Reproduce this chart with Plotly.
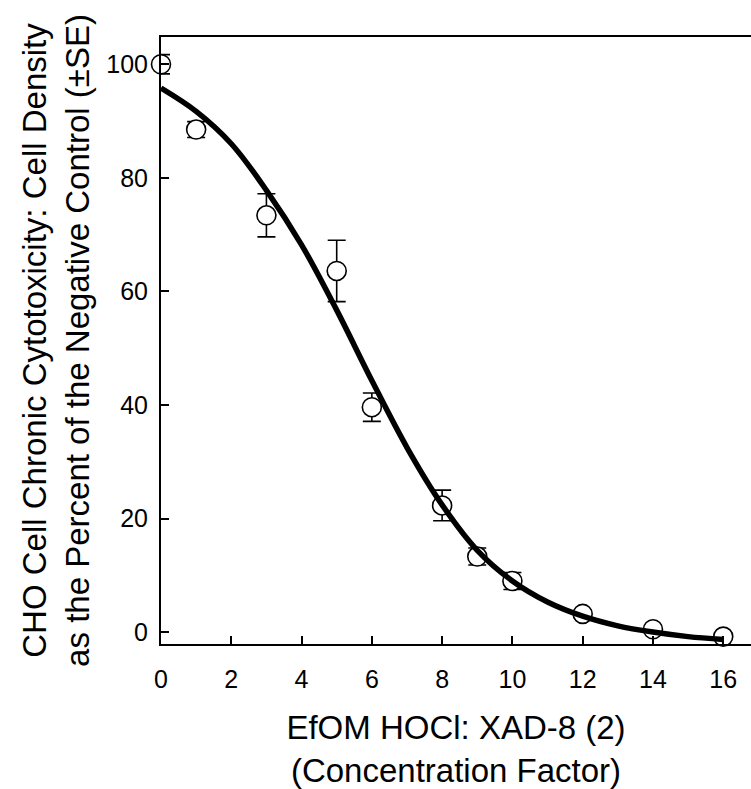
import plotly.graph_objects as go

# Observed data (concentration factor, % of negative control, SE)
conc = [0, 1, 3, 5, 6, 8, 9, 10, 12, 14, 16]
density = [100.0, 88.5, 73.4, 63.6, 39.6, 22.3, 13.3, 9.0, 3.2, 0.5, -0.8]
se = [1.7, 1.4, 3.8, 5.4, 2.5, 2.7, 1.5, 1.5, 0.6, 0.5, 0.3]

# Fitted curve
fit_x = [0, 1, 2, 3, 4, 5, 6, 7, 8, 9, 10, 11, 12, 13, 14, 15, 16]
fit_y = [95.8, 91.7, 86.0, 77.8, 68.2, 56.7, 44.3, 32.5, 22.4, 14.4, 9.0,
         5.3, 2.8, 1.1, 0.0, -0.8, -1.3]

x_ticks = [0, 2, 4, 6, 8, 10, 12, 14, 16]
y_ticks = [0, 20, 40, 60, 80, 100]

FONT = "Liberation Sans, Arial, sans-serif"

fig = go.Figure()
fig.add_trace(go.Scatter(
    x=conc, y=density, mode="markers",
    marker=dict(symbol="circle", size=19, color="white",
                line=dict(color="black", width=1.6)),
    error_y=dict(type="data", array=se, visible=True, color="black",
                 thickness=1.6, width=9),
    cliponaxis=False, showlegend=False,
))
fig.add_trace(go.Scatter(
    x=fit_x, y=fit_y, mode="lines",
    line=dict(color="black", width=5.5, shape="spline", smoothing=1.0),
    cliponaxis=False, showlegend=False,
))

fig.update_layout(
    width=751, height=789,
    margin=dict(l=161, r=0, t=37, b=143),
    paper_bgcolor="white", plot_bgcolor="white",
    font=dict(family=FONT, color="black"),
    xaxis=dict(
        range=[0, 16.79], tickmode="array", tickvals=x_ticks,
        ticks="inside", ticklen=8, tickwidth=1.5, tickcolor="black",
        showline=True, linecolor="black", linewidth=2, mirror=True,
        showgrid=False, zeroline=False,
        tickfont=dict(size=25, family=FONT), ticklabelstandoff=12,
        title=dict(text="EfOM HOCl: XAD-8 (2)<br>(Concentration Factor)",
                   font=dict(size=33, family=FONT), standoff=30),
    ),
    yaxis=dict(
        range=[-2.1, 104.8], tickmode="array", tickvals=y_ticks,
        ticks="inside", ticklen=8, tickwidth=1.5, tickcolor="black",
        showline=True, linecolor="black", linewidth=2, mirror=False,
        showgrid=False, zeroline=False,
        tickfont=dict(size=25, family=FONT), ticklabelstandoff=6,
        title=dict(text="CHO Cell Chronic Cytotoxicity: Cell Density<br>as the Percent of the Negative Control (±SE)",
                   font=dict(size=33, family=FONT), standoff=7),
    ),
)

fig.write_html("out.html")
